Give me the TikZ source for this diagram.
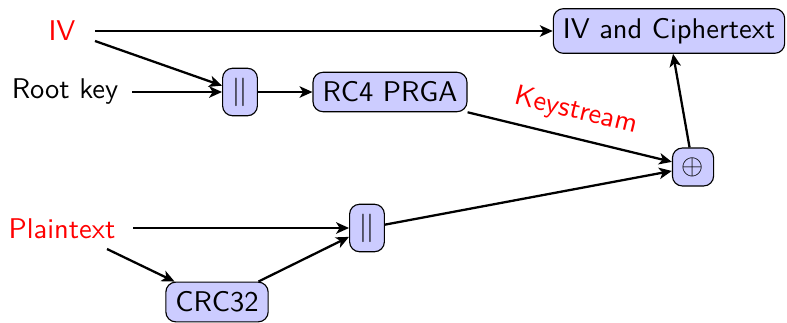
\documentclass[tikz,border=0pt]{standalone}
\usetikzlibrary{arrows.meta}
\begin{document}
\begin{tikzpicture}[x=0.3509pt,y=-0.3509pt,
  font=\sffamily,
  box/.style={draw,fill=blue!20,rounded corners=3.5pt,inner sep=3.33pt},
  lbl/.style={inner sep=3.33pt},
  arr/.style={thick,-{Stealth[length=4.5pt,width=4pt,inset=1.2pt]}}]
\useasboundingbox (0,0) rectangle (787,322);
\node[lbl,text=red] (iv) at (62,31) {IV};
\node[lbl] (root) at (65,92) {Root key};
\node[box] (c1) at (240,92) {$||$};
\node[box] (rc4) at (390,92) {RC4 PRGA};
\node[box] (ct) at (669,31) {IV and Ciphertext};
\node[box] (xor) at (693,167) {$\oplus$};
\node[lbl,text=red] (pt) at (62,229) {Plaintext};
\node[box] (c2) at (367,228) {$||$};
\node[box] (crc) at (217,302) {CRC32};
\coordinate (ivA) at (95,31);
\coordinate (ivB) at (95,41);
\coordinate (rootA) at (132,92);
\coordinate (ptA) at (133,228);
\coordinate (ptB) at (107,249);
\draw[arr] (ivA) -- (ct.west |- ivA);
\draw[arr] (ivB) -- (c1);
\draw[arr] (rootA) -- (c1);
\draw[arr] (c1) -- (rc4);
\draw[arr] (rc4.south east) -- node[above,sloped,text=red,yshift=1pt] {Keystream} (xor);
\draw[arr] (c2) -- (xor);
\draw[arr] (xor) -- (ct);
\draw[arr] (ptA) -- (c2);
\draw[arr] (ptB) -- (crc);
\draw[arr] (crc) -- (c2);
\end{tikzpicture}
\end{document}
